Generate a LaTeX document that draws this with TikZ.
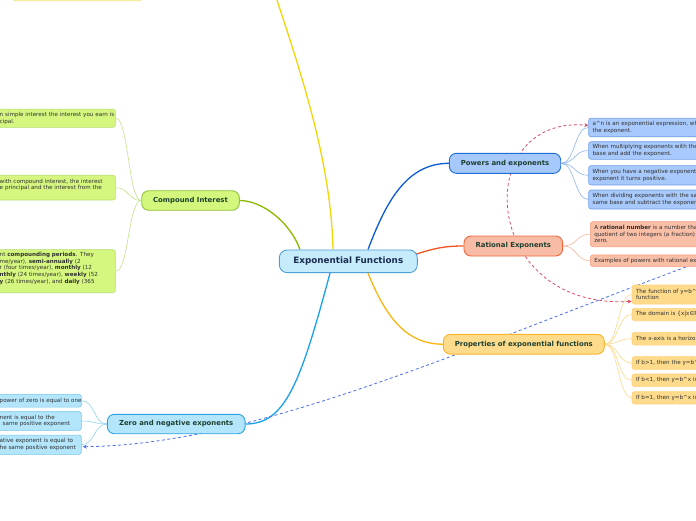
\documentclass[tikz,border=0pt]{standalone}
\usepackage{fontspec}
\setmainfont{DejaVu Sans}
\usetikzlibrary{arrows.meta,calc}
\definecolor{ctrf}{HTML}{C6ECFC}\definecolor{ctrb}{HTML}{4D9FD6}
\definecolor{pwf}{HTML}{A6C8FA}\definecolor{pwb}{HTML}{1F6FD6}\definecolor{pwl}{HTML}{0B5BD3}
\definecolor{pwlf}{HTML}{A8C9FB}\definecolor{pwlb}{HTML}{6E9EE8}\definecolor{pwc}{HTML}{8DB4EF}
\definecolor{raf}{HTML}{F8BBA5}\definecolor{rab}{HTML}{F0673A}\definecolor{ral}{HTML}{F05423}
\definecolor{ralf}{HTML}{FABFA7}\definecolor{ralb}{HTML}{F7A080}\definecolor{rac}{HTML}{F9B79D}
\definecolor{prf}{HTML}{FEDB8B}\definecolor{prb}{HTML}{F6B52A}\definecolor{prl}{HTML}{FBB512}
\definecolor{prlf}{HTML}{FEDB8B}\definecolor{prlb}{HTML}{FCD27A}\definecolor{prc}{HTML}{FCD98C}
\definecolor{zrf}{HTML}{B3E5FB}\definecolor{zrb}{HTML}{2CA3E0}\definecolor{zrl}{HTML}{1BA1EA}
\definecolor{zrlf}{HTML}{B3E5FB}\definecolor{zrlb}{HTML}{74C7EF}\definecolor{zrc}{HTML}{8FD3F3}
\definecolor{cmf}{HTML}{D3F77C}\definecolor{cmb}{HTML}{90C43A}\definecolor{cml}{HTML}{8AB800}
\definecolor{cmlf}{HTML}{D5F77F}\definecolor{cmlb}{HTML}{B3E06B}\definecolor{cmc}{HTML}{C2E58A}
\definecolor{ylf}{HTML}{FFFAA8}\definecolor{ylb}{HTML}{F2E58A}\definecolor{yll}{HTML}{F1D70A}
\definecolor{reldr}{HTML}{DC4A66}\definecolor{reldb}{HTML}{4D6FE8}
\definecolor{leaftext}{HTML}{2F2F2F}\definecolor{topictext}{HTML}{1D4030}\definecolor{ctrtext}{HTML}{1A2D4F}
\pgfdeclarelayer{back}\pgfdeclarelayer{bg}\pgfsetlayers{back,bg,main}
\tikzset{
  leaf/.style={rounded corners=2.5pt, line width=0.6pt, inner xsep=4pt, inner ysep=0pt,
    font=\fontsize{5.6}{6.7}\selectfont, text=leaftext, align=left},
  gleaf/.style={leaf, draw=cmlb, fill=cmlf, anchor=east, text width=111.7pt},
  zleaf/.style={leaf, draw=zrlb, fill=zrlf, anchor=east, text width=77.7pt},
  pleaf/.style={leaf, draw=pwlb, fill=pwlf, anchor=west, text width=220pt},
  rleaf/.style={leaf, draw=ralb, fill=ralf, anchor=west, text width=220pt},
  yleaf/.style={leaf, draw=prlb, fill=prlf, anchor=west, text width=220pt},
  topic/.style={rounded corners=7pt, line width=0.9pt, inner sep=0pt,
    font=\fontsize{6.9}{8}\selectfont\bfseries, text=topictext},
  maincon/.style={line width=1.3pt},
  lcon/.style={line width=0.6pt},
  reld/.style={line width=0.8pt, dash pattern=on 3pt off 2.5pt},
}
\begin{document}
\begin{tikzpicture}[x=1pt,y=-1pt]
\path[use as bounding box] (0,0) rectangle (696,520);
\begin{pgfonlayer}{back}
\fill[white] (0,0) rectangle (696,520);
\end{pgfonlayer}
\clip (0,0) rectangle (696,520);

% central
\node[rounded corners=8pt, line width=0.9pt, draw=ctrb, fill=ctrf, inner sep=0pt,
  minimum width=138pt, minimum height=22.7pt, text=ctrtext,
  font=\fontsize{8.8}{10}\selectfont\bfseries] (ctr) at (348.3,261.3) {Exponential Functions};

% main topics
\node[topic, draw=cmb, fill=cmf, minimum width=97.6pt, minimum height=19.5pt] (cmp) at (190.5,200.5) {Compound Interest};
\node[topic, draw=zrb, fill=zrf, minimum width=137.7pt, minimum height=19.4pt] (zr) at (176.2,424) {Zero and negative exponents};
\node[topic, draw=pwb, fill=pwf, minimum width=111.4pt, minimum height=20pt] (pw) at (505,163.3) {Powers and exponents};
\node[topic, draw=rab, fill=raf, minimum width=98.7pt, minimum height=20pt] (ra) at (513.3,246) {Rational Exponents};
\node[topic, draw=prb, fill=prf, minimum width=161pt, minimum height=19.7pt] (prp) at (523.8,344.2) {Properties of exponential functions};

% top leaf (only its lower edge is inside the picture)
\node[leaf, draw=ylb, fill=ylf, anchor=south west, minimum width=130pt, minimum height=20pt] (top) at (12,1) {};
\coordinate (topend) at (272,-15);

% compound leaves
\node[gleaf, minimum height=18.3pt] (cl1) at (115.7,118.2)
  {\mbox{n simple interest the interest you earn is}\\\mbox{cipal.}};
\node[gleaf, minimum height=24.7pt] (cl2) at (115.7,187.6)
  {\mbox{with compound interest, the interest}\\\mbox{e principal and the interest from the}\\\mbox{}};
\node[gleaf, minimum height=43pt] (cl3) at (115.7,271.2)
  {\mbox{nt \textbf{compounding periods}. They}\\\mbox{me/year), \textbf{semi-annually} (2}\\\mbox{r (four times/year), \textbf{monthly} (12}\\\mbox{\textbf{nthly} (24 times/year), \textbf{weekly} (52}\\\mbox{\textbf{y} (26 times/year), and \textbf{daily} (365}\\\mbox{}};

% zero leaves
\node[zleaf, minimum height=12.7pt] (z1) at (81.7,400.7) {\mbox{power of zero is equal to one}};
\node[zleaf, minimum height=18.6pt] (z2) at (81.7,421) {\mbox{nent is equal to the}\\\mbox{\hspace*{3pt}same positive exponent}};
\node[zleaf, minimum height=19.3pt] (z3) at (81.7,444.7) {\mbox{ative exponent is equal to}\\\mbox{he same positive exponent}};

% powers leaves
\node[pleaf, minimum height=18.7pt] (pw1) at (588.3,127.4)
  {\mbox{a\textasciicircum n is an exponential expression, where}\\\mbox{the exponent.}};
\node[pleaf, minimum height=17.6pt] (pw2) at (588.3,150.5)
  {\mbox{When multiplying exponents with the same}\\\mbox{base and add the exponent.}};
\node[pleaf, minimum height=19.3pt] (pw3) at (588.3,175.3)
  {\mbox{When you have a negative exponent, if you}\\\mbox{exponent it turns positive.}};
\node[pleaf, minimum height=19pt] (pw4) at (588.3,199.5)
  {\mbox{When dividing exponents with the same}\\\mbox{same base and subtract the exponents.}};

% rational leaves
\node[rleaf, minimum height=25pt] (ra1) at (590,234.2)
  {\mbox{A \textbf{rational number} is a number that}\\\mbox{quotient of two integers (a fraction) with}\\\mbox{zero.}};
\node[rleaf, minimum height=11.7pt] (ra2) at (590,260.8)
  {\mbox{Examples of powers with rational exponents}};

% properties leaves
\node[yleaf, minimum height=19pt] (pr1) at (631.7,294.5)
  {\mbox{The function of y=b\textasciicircum x is an}\\\mbox{function}};
\node[yleaf, minimum height=12.4pt] (pr2) at (631.7,314.5) {\mbox{The domain is \{x|x∈R\}}};
\node[yleaf, minimum height=12.7pt] (pr3) at (631.7,338.7) {\mbox{The x-axis is a horizontal asymptote}};
\node[yleaf, minimum height=12.6pt] (pr4) at (631.7,363) {\mbox{If b>1, then the y=b\textasciicircum x is}};
\node[yleaf, minimum height=12.7pt] (pr5) at (631.7,380.3) {\mbox{If b<1, then y=b\textasciicircum x is}};
\node[yleaf, minimum height=12.3pt] (pr6) at (631.7,397.8) {\mbox{If b=1, then y=b\textasciicircum x is}};

\begin{pgfonlayer}{bg}
% main connectors
\draw[maincon, yll] ($(ctr.north)+(-15.3,0)$) .. controls (331,160) and (300,70) .. (topend);
\draw[maincon, cml] ($(ctr.north)+(-48.3,0)$) .. controls (290,222) and (262,200.5) .. (cmp.east);
\draw[maincon, pwl] ($(ctr.north)+(19.7,0)$) .. controls (385,205) and (405,163.3) .. (pw.west);
\draw[maincon, ral] ($(ctr.east)+(-2,-7)$) .. controls (435,248) and (445,246) .. (ra.west);
\draw[maincon, prl] ($(ctr.south)+(19.7,0)$) .. controls (385,315) and (405,344.2) .. (prp.west);
\draw[maincon, zrl] ($(ctr.south)+(-18.3,0)$) .. controls (300,385) and (285,424) .. (zr.east);

% leaf connectors
\foreach \n in {cl1,cl2,cl3}
  \draw[lcon, cmc] (cmp.west) .. controls +(-13,0) and +(13,0) .. (\n.east);
\foreach \n in {z1,z2,z3}
  \draw[lcon, zrc] (zr.west) .. controls +(-13,0) and +(13,0) .. (\n.east);
\foreach \n in {pw1,pw2,pw3,pw4}
  \draw[lcon, pwc] (pw.east) .. controls +(14,0) and +(-14,0) .. (\n.west);
\foreach \n in {ra1,ra2}
  \draw[lcon, rac] (ra.east) .. controls +(14,0) and +(-14,0) .. (\n.west);
\foreach \n in {pr1,pr2,pr3,pr4,pr5,pr6}
  \draw[lcon, prc] (prp.east) .. controls +(14,0) and +(-14,0) .. (\n.west);

% relationships
\draw[reld, reldr, {Stealth[length=4pt,width=4pt]}-{Stealth[length=4pt,width=4pt]}]
  ($(pr1.south west)+(0,-3)$) .. controls (480,310) and (470,115) .. ($(pw1.west)+(0,-2)$);
\draw[reld, reldb, -{Stealth[length=4pt,width=4pt]}]
  ($(ra2.south west)+(96,0)$) .. controls (450,355) and (250,445) .. ($(z3.east)+(1,2)$);
\end{pgfonlayer}
\end{tikzpicture}
\end{document}
